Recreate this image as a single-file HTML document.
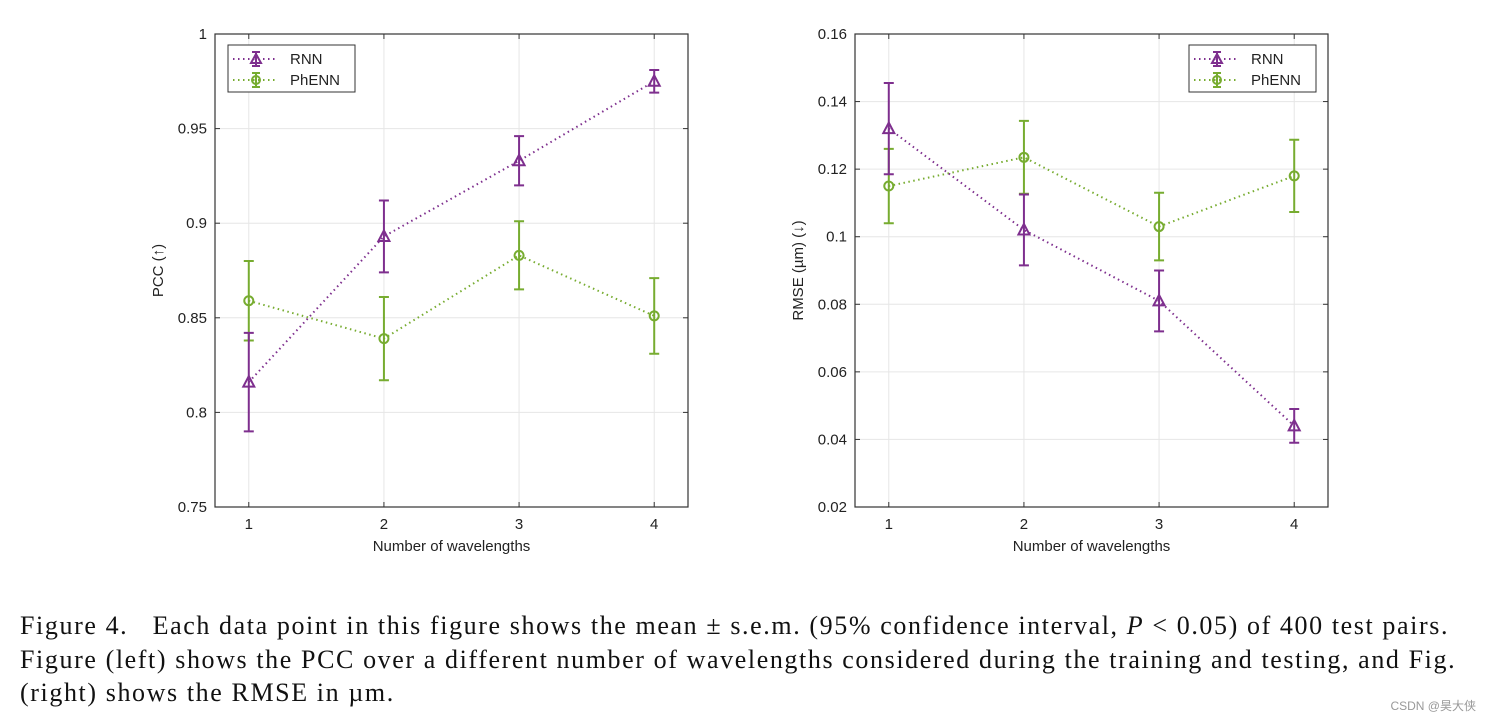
<!DOCTYPE html>
<html><head><meta charset="utf-8"><style>
body{margin:0;background:#fff;width:1490px;height:722px;overflow:hidden;position:relative}
svg{position:absolute;left:0;top:0}
.cap{position:absolute;left:20px;top:609px;width:1470px;font-family:"Liberation Serif",serif;font-size:26px;letter-spacing:1.6px;line-height:33.5px;color:#111;white-space:nowrap}
.wm{position:absolute;right:14px;top:697px;font-family:"Liberation Sans","Noto Sans CJK SC",sans-serif;font-size:12px;color:#999}
</style></head><body>
<svg id="chart" width="1490" height="600" font-family="Liberation Sans, sans-serif"></svg>
<div class="cap">Figure 4.&nbsp;&nbsp; Each data point in this figure shows the mean ± s.e.m. (95% confidence interval, <i>P</i> &lt; 0.05) of 400 test pairs.<br>Figure (left) shows the PCC over a different number of wavelengths considered during the training and testing, and Fig.<br>(right) shows the RMSE in µm.</div>
<div class="wm">CSDN @昊大侠</div>
<script>
const categories=[1,2,3,4];
const pccRnn=[0.816,0.893,0.933,0.975];
const pccRnnErr=[0.026,0.019,0.013,0.006];
const pccPhenn=[0.859,0.839,0.883,0.851];
const pccPhennErr=[0.021,0.022,0.018,0.020];
const rmseRnn=[0.132,0.102,0.081,0.044];
const rmseRnnErr=[0.0135,0.0105,0.009,0.005];
const rmsePhenn=[0.115,0.1235,0.103,0.118];
const rmsePhennErr=[0.011,0.0108,0.010,0.0107];
const pccTicks=[0.75,0.8,0.85,0.9,0.95,1];
const pccTickLabels=["0.75","0.8","0.85","0.9","0.95","1"];
const rmseTicks=[0.02,0.04,0.06,0.08,0.1,0.12,0.14,0.16];
const rmseTickLabels=["0.02","0.04","0.06","0.08","0.1","0.12","0.14","0.16"];

const svg=document.getElementById('chart');
const NS='http://www.w3.org/2000/svg';
function mk(tag,attrs,parent){const e=document.createElementNS(NS,tag);for(const k in attrs)e.setAttribute(k,attrs[k]);(parent||svg).appendChild(e);return e;}
const PURPLE='#7E2F8E',GREEN='#77AC30';

function panel(name,x0,x1,ymin,ymax,ticks,labels,ytitle,rnn,rnnE,ph,phE){
  const y0=34,y1=507;
  const g=mk('g',{});
  
  
  const sx=v=>x0+(v-0.75)/3.5*(x1-x0);
  const sy=v=>y1-(v-ymin)/(ymax-ymin)*(y1-y0);
  categories.forEach((c,i)=>{mk('line',{x1:sx(c),x2:sx(c),y1:y0,y2:y1,stroke:'#e6e6e6'},g);});
  ticks.forEach((t,i)=>{
    mk('line',{x1:x0,x2:x1,y1:sy(t),y2:sy(t),stroke:'#e6e6e6'},g);
    mk('line',{x1:x0,x2:x0+5,y1:sy(t),y2:sy(t),stroke:'#333'},g);
    mk('line',{x1:x1,x2:x1-5,y1:sy(t),y2:sy(t),stroke:'#333'},g);
    const tx=mk('text',{x:x0-8,y:sy(t)+5,'text-anchor':'end','font-size':15,fill:'#222'},g);
    tx.textContent=labels[i];
    
    
  });
  categories.forEach(c=>{
    mk('line',{x1:sx(c),x2:sx(c),y1:y1,y2:y1-5,stroke:'#333'},g);
    mk('line',{x1:sx(c),x2:sx(c),y1:y0,y2:y0+5,stroke:'#333'},g);
    const tx=mk('text',{x:sx(c),y:y1+22,'text-anchor':'middle','font-size':15,fill:'#222'},g);
    tx.textContent=c;
    
    
  });
  mk('rect',{x:x0,y:y0,width:x1-x0,height:y1-y0,fill:'none',stroke:'#333','stroke-width':1.2},g);
  const xt=mk('text',{x:(x0+x1)/2,y:551,'text-anchor':'middle','font-size':15,fill:'#222'},g);
  xt.textContent='Number of wavelengths';
  
  
  const yt=mk('text',{x:0,y:0,'text-anchor':'middle','font-size':15,fill:'#222',transform:`translate(${x0-52},${(y0+y1)/2}) rotate(-90)`},g);
  yt.textContent=ytitle;
  
  
  function series(vals,errs,color,marker,sname){
    const sg=mk('g',{},g);
    
    
    mk('polyline',{points:vals.map((v,i)=>sx(categories[i])+','+sy(v)).join(' '),fill:'none',stroke:color,'stroke-width':2,'stroke-dasharray':'1.5 3.5'},sg);
    vals.forEach((v,i)=>{
      const x=sx(categories[i]);
      const e=mk('path',{d:`M${x},${sy(v-errs[i])}V${sy(v+errs[i])}M${x-5},${sy(v-errs[i])}H${x+5}M${x-5},${sy(v+errs[i])}H${x+5}`,stroke:color,'stroke-width':2,fill:'none'},sg);
      
      
      let m;
      if(marker==='tri') m=mk('path',{d:`M${x},${sy(v)-6}L${x+5.5},${sy(v)+4.5}L${x-5.5},${sy(v)+4.5}Z`,fill:'none',stroke:color,'stroke-width':2},sg);
      else m=mk('circle',{cx:x,cy:sy(v),r:4.5,fill:'none',stroke:color,'stroke-width':2},sg);
      
      
    });
  }
  series(ph,phE,GREEN,'circ','series-phenn');
  series(rnn,rnnE,PURPLE,'tri','series-rnn');
  return {g,sx,sy};
}
function legend(lx,ly){
  const g=mk('g',{});
  
  
  mk('rect',{x:lx,y:ly,width:127,height:47,fill:'#fff',stroke:'#333'},g);
  [['RNN',PURPLE,'tri'],['PhENN',GREEN,'circ']].forEach((d,i)=>{
    const y=ly+14+i*21;
    const eg=mk('g',{},g);
    
    
    mk('line',{x1:lx+5,x2:lx+50,y1:y,y2:y,stroke:d[1],'stroke-width':2,'stroke-dasharray':'1.5 3.5'},eg);
    const x=lx+28;
    mk('path',{d:`M${x},${y-7}V${y+7}M${x-4},${y-7}H${x+4}M${x-4},${y+7}H${x+4}`,stroke:d[1],'stroke-width':2},eg);
    if(d[2]==='tri') mk('path',{d:`M${x},${y-5}L${x+5},${y+4}L${x-5},${y+4}Z`,fill:'none',stroke:d[1],'stroke-width':2},eg);
    else mk('circle',{cx:x,cy:y,r:4,fill:'none',stroke:d[1],'stroke-width':2},eg);
    const t=mk('text',{x:lx+62,y:y+5,'font-size':15,fill:'#222'},eg);
    t.textContent=d[0];
  });
}
panel('pcc-chart',215,688,0.75,1,pccTicks,pccTickLabels,'PCC (↑)',pccRnn,pccRnnErr,pccPhenn,pccPhennErr);
legend(228,45);
panel('rmse-chart',855,1328,0.02,0.16,rmseTicks,rmseTickLabels,'RMSE (µm) (↓)',rmseRnn,rmseRnnErr,rmsePhenn,rmsePhennErr);
legend(1189,45);
</script>
</body></html>
